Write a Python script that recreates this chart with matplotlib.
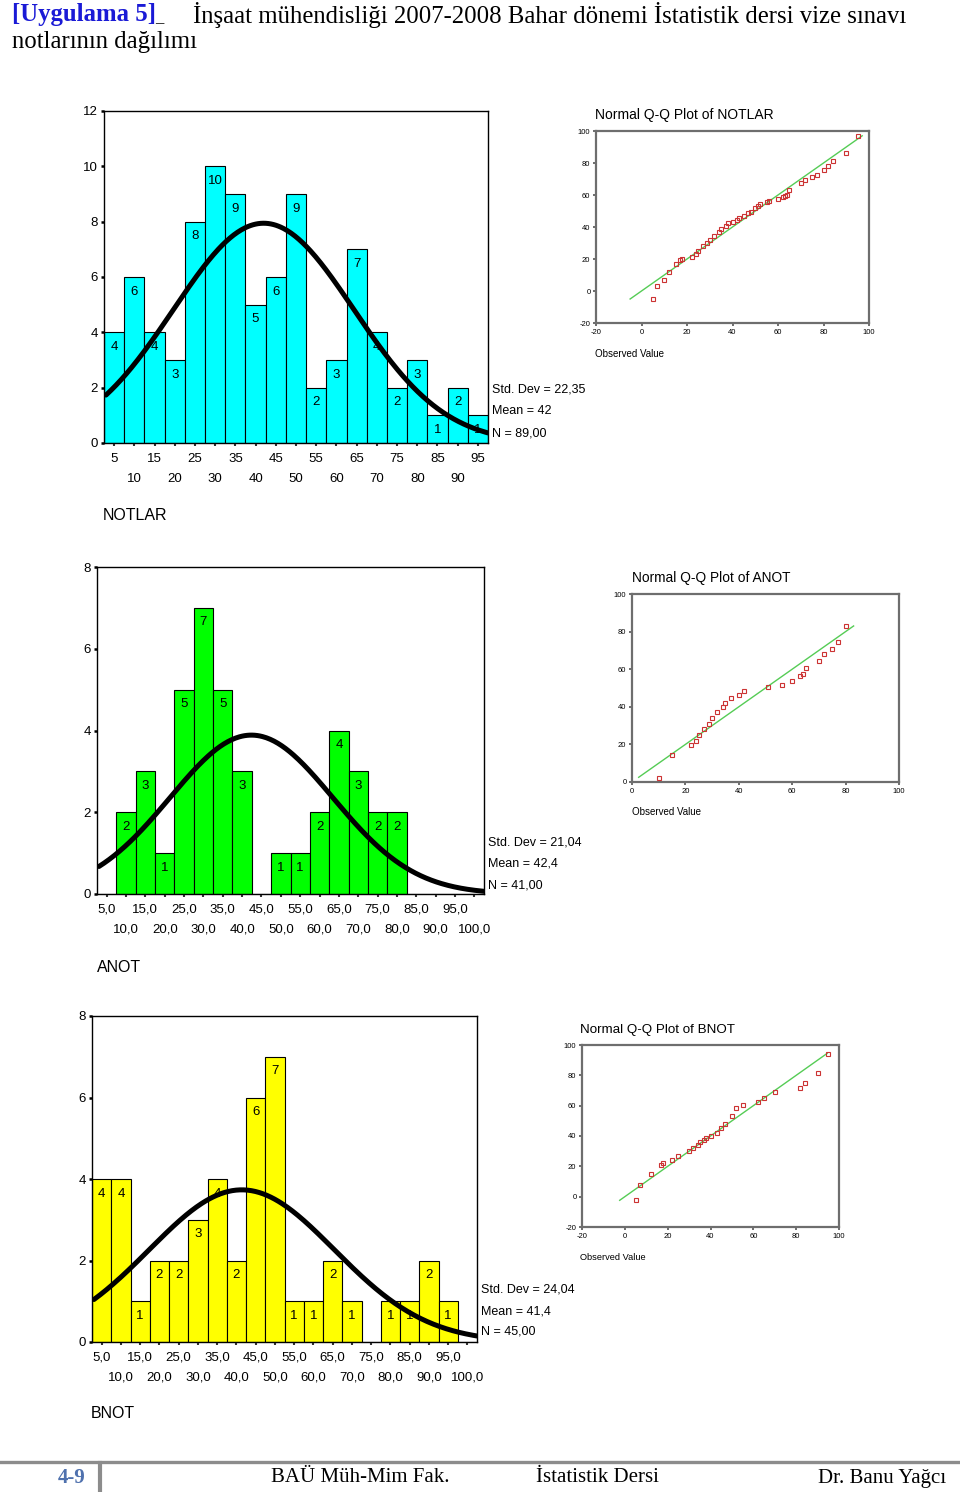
import numpy as np
import matplotlib
matplotlib.use("Agg")
import matplotlib.pyplot as plt
from matplotlib.lines import Line2D

plt.rcParams['font.family'] = ['Liberation Sans', 'DejaVu Sans']

# ---------------- data ----------------
# NOTLAR histogram
notlar_centers = [5, 10, 15, 20, 25, 30, 35, 40, 45, 50, 55, 60, 65, 70, 75, 80, 85, 90, 95]
notlar_counts = [4, 6, 4, 3, 8, 10, 9, 5, 6, 9, 2, 3, 7, 4, 2, 3, 1, 2, 1]
notlar_stats = dict(mean=42.0, sd=22.35, n=89)
notlar_text = ["Std. Dev = 22,35", "Mean = 42", "N = 89,00"]

# ANOT histogram
anot_centers = [5, 10, 15, 20, 25, 30, 35, 40, 45, 50, 55, 60, 65, 70, 75, 80, 85, 90, 95, 100]
anot_counts = [0, 2, 3, 1, 5, 7, 5, 3, 0, 1, 1, 2, 4, 3, 2, 2, 0, 0, 0, 0]
anot_stats = dict(mean=42.4, sd=21.04, n=41)
anot_text = ["Std. Dev = 21,04", "Mean = 42,4", "N = 41,00"]

# BNOT histogram
bnot_centers = [5, 10, 15, 20, 25, 30, 35, 40, 45, 50, 55, 60, 65, 70, 75, 80, 85, 90, 95, 100]
bnot_counts = [4, 4, 1, 2, 2, 3, 4, 2, 6, 7, 1, 1, 2, 1, 0, 1, 1, 2, 1, 0]
bnot_stats = dict(mean=41.4, sd=24.04, n=45)
bnot_text = ["Std. Dev = 24,04", "Mean = 41,4", "N = 45,00"]

# Q-Q plots: observed value vs expected normal value
qq_notlar_obs = [5, 7, 10, 12, 15, 17, 18, 22, 24, 25, 27, 29, 30, 32, 34, 35, 37, 38, 40, 42,
                 43, 45, 47, 48, 50, 51, 52, 55, 56, 60, 62, 63, 64, 65, 70, 72, 75, 77, 80, 82,
                 84, 90, 95]
qq_notlar_exp = [-4.8, 3, 6.7, 12, 16.7, 19.2, 20, 21.3, 23, 25, 28, 29.7, 31.8, 34.5, 37, 39, 40.7, 42.3, 43.2, 44.3,
                 45.7, 47, 48.5, 49.1, 51.6, 53.3, 54.3, 55.8, 56.4, 57.2, 58.5, 59.5, 60.3, 63.1, 67.4, 69.5, 71.4, 72.7, 75.4, 78.3,
                 81, 86.4, 97]
qq_notlar_line = [-5, 97]

qq_anot_obs = [10, 15, 22, 24, 25, 27, 29, 30, 32, 34, 35, 37, 40, 42, 51, 56, 60, 63, 64, 65,
               70, 72, 75, 77, 80]
qq_anot_exp = [2, 14.2, 19.7, 21.8, 24.9, 28.1, 30.9, 33.9, 37.1, 40, 42.1, 44.6, 46.4, 48.3, 50.6, 51.5, 53.8, 56.3, 57.7, 60.4,
               64.5, 68.2, 71, 74.6, 82.8]
qq_anot_line = [2.5, 83]

qq_bnot_obs = [5, 7, 12, 17, 18, 22, 25, 30, 32, 34, 35, 37, 38, 40, 43, 45, 47, 50, 52, 55,
               62, 65, 70, 82, 84, 90, 95]
qq_bnot_exp = [-2, 7.9, 14.9, 20.7, 22.2, 24.2, 26.6, 29.9, 31.9, 33.8, 35.8, 37.1, 38.5, 40, 42, 45.1, 48.1, 53, 58.7, 60.7,
               62.4, 65.3, 69, 71.4, 75, 81.8, 94.1]
qq_bnot_line = [-2.4, 94.5]

# ---------------- figure ----------------
W, H = 960, 1492
fig = plt.figure(figsize=(W / 100, H / 100), dpi=100)


def rect(l, t, r, b):
    return [l / W, 1 - b / H, (r - l) / W, (b - t) / H]


def ftxt(x, y, s, **kw):
    kw.setdefault('va', 'center')
    kw.setdefault('ha', 'left')
    return fig.text(x / W, 1 - y / H, s, **kw)


def histogram(box, centers, counts, stats, color, ymax, yticks, labels_fmt, xlim):
    ax = fig.add_axes(rect(*box))
    width = 5
    ax.bar(centers, counts, width=width, color=color, edgecolor='black', linewidth=0.8, zorder=2)
    for c, v in zip(centers, counts):
        if v > 0:
            ax.annotate(str(v), (c, v), xytext=(0, -10.5), textcoords='offset points',
                        ha='center', va='center', fontsize=9.5, zorder=3)
    xs = np.linspace(xlim[0] + 0.5, xlim[1], 300)
    m, s, n = stats['mean'], stats['sd'], stats['n']
    ys = n * width / (s * np.sqrt(2 * np.pi)) * np.exp(-0.5 * ((xs - m) / s) ** 2)
    ax.plot(xs, ys, color='black', lw=3.6, zorder=4, solid_capstyle='round')
    ax.set_xlim(*xlim)
    ax.set_ylim(0, ymax)
    ax.set_yticks(yticks)
    ax.set_yticklabels([str(t) for t in yticks], fontsize=9.5)
    major = centers[0::2]
    minor = centers[1::2]
    ax.set_xticks(major)
    ax.set_xticklabels([labels_fmt(v) for v in major], fontsize=9.5)
    ax.set_xticks(minor, minor=True)
    ax.set_xticklabels([labels_fmt(v) for v in minor], minor=True, fontsize=9.5)
    ax.tick_params(axis='x', which='major', length=2.5, width=1.5, pad=4.5, color='#333333')
    ax.tick_params(axis='x', which='minor', length=2.5, width=1.5, pad=19, color='#333333')
    ax.tick_params(axis='y', length=2.5, width=1.8, pad=2)
    for sp in ax.spines.values():
        sp.set_linewidth(1.0)
        sp.set_color('black')
    return ax


fmt_int = lambda v: str(v)
fmt_dec = lambda v: f"{v},0"

histogram((104, 111, 488, 443), notlar_centers, notlar_counts, notlar_stats, '#00FFFF',
          12, [0, 2, 4, 6, 8, 10, 12], fmt_int, (2.5, 97.5))
histogram((97, 567, 484, 894), anot_centers, anot_counts, anot_stats, '#00FF00',
          8, [0, 2, 4, 6, 8], fmt_dec, (2.5, 102.5))
histogram((92, 1016, 477, 1342), bnot_centers, bnot_counts, bnot_stats, '#FFFF00',
          8, [0, 2, 4, 6, 8], fmt_dec, (2.5, 102.5))

for (x, ys), lines in zip([(492, (390, 411, 433)), (488, (842, 863, 885)), (481, (1290, 1311, 1332))],
                          [notlar_text, anot_text, bnot_text]):
    for y, s in zip(ys, lines):
        ftxt(x, y, s, fontsize=9)

ftxt(103, 516, "NOTLAR", fontsize=11.5)
ftxt(97, 967, "ANOT", fontsize=11.5)
ftxt(91, 1414, "BNOT", fontsize=11.5)


def qqplot(box, obs, exp, line, lim, ticks, title, title_xy, obs_xy, tfs, ofs):
    ax = fig.add_axes(rect(*box))
    ax.plot(line, line, color='#55CC55', lw=1.0, zorder=2)
    ax.plot(obs, exp, ls='none', marker='s', markersize=3.2, markerfacecolor='none',
            markeredgecolor='#CC3333', markeredgewidth=0.8, zorder=3)
    ax.set_xlim(*lim)
    ax.set_ylim(*lim)
    ax.set_xticks(ticks)
    ax.set_yticks(ticks)
    ax.set_xticklabels([str(t) for t in ticks], fontsize=5.5)
    ax.set_yticklabels([str(t) for t in ticks], fontsize=5.5)
    ax.tick_params(length=2, width=1.2, color='#555555', pad=2)
    for sp in ax.spines.values():
        sp.set_linewidth(1.6)
        sp.set_color('#6E6E6E')
    ftxt(title_xy[0], title_xy[1], title, fontsize=tfs)
    ftxt(obs_xy[0], obs_xy[1], "Observed Value", fontsize=ofs)
    return ax


qqplot((596, 131, 869, 323), qq_notlar_obs, qq_notlar_exp, qq_notlar_line, (-20, 100),
       [-20, 0, 20, 40, 60, 80, 100], "Normal Q-Q Plot of NOTLAR", (595, 115), (595, 354), 10, 7)
qqplot((632, 594, 899, 782), qq_anot_obs, qq_anot_exp, qq_anot_line, (0, 100),
       [0, 20, 40, 60, 80, 100], "Normal Q-Q Plot of ANOT", (632, 578), (632, 812), 9.9, 7)
qqplot((582, 1045, 839, 1227), qq_bnot_obs, qq_bnot_exp, qq_bnot_line, (-20, 100),
       [-20, 0, 20, 40, 60, 80, 100], "Normal Q-Q Plot of BNOT", (580, 1030), (580, 1257), 9.6, 6.7)

# ---------------- page header ----------------
serif = ['Liberation Serif', 'DejaVu Serif']
ftxt(12, 15, "[Uygulama 5]", fontsize=17.8, family=serif, weight='bold', color='#1A1AD6')
ftxt(155, 18, "_", fontsize=12, family=serif, color='black')
ftxt(193, 15, "İnşaat mühendisliği 2007-2008 Bahar dönemi İstatistik dersi vize sınavı",
     fontsize=17.8, family=serif)
ftxt(12, 42, "notlarının dağılımı", fontsize=17.8, family=serif)

# ---------------- footer ----------------
fig.add_artist(Line2D([0, 1], [1 - 1462 / H, 1 - 1462 / H], color='#8C8C8C', lw=2.4,
                      transform=fig.transFigure))
fig.add_artist(Line2D([100 / W, 100 / W], [1 - 1463 / H, 0], color='#8C8C8C', lw=3,
                      transform=fig.transFigure))
ftxt(58, 1478, "4-9", fontsize=15, family=serif, weight='bold', color='#4F71AE')
ftxt(271, 1478, "BAÜ Müh-Mim Fak.", fontsize=15, family=serif)
ftxt(536, 1478, "İstatistik Dersi", fontsize=15, family=serif)
ftxt(946, 1478, "Dr. Banu Yağcı", fontsize=15, family=serif, ha='right')

fig.savefig("out.png", dpi=100, facecolor='white')
